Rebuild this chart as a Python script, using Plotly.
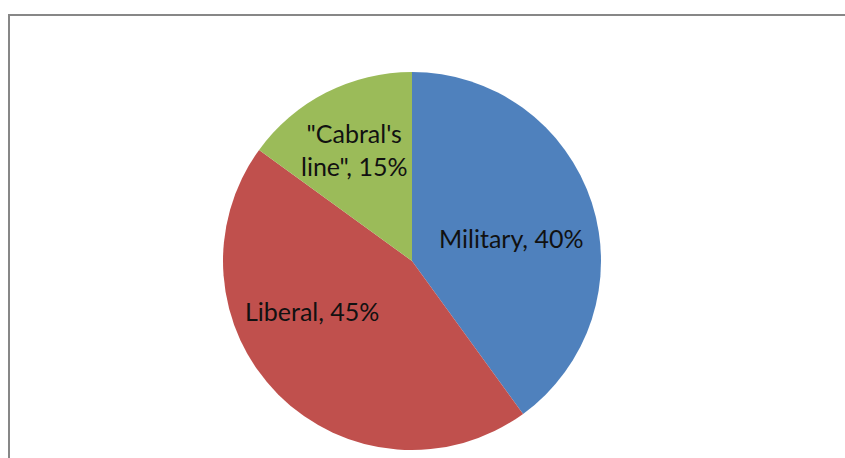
import math
import plotly.graph_objects as go

# Share of each faction
labels = ["Military", "Liberal", '"Cabral\'s<br>line"']
values = [40, 45, 15]
colors = ["#4F81BD", "#C0504D", "#9BBB59"]

W, H = 845, 458
cx, cy, r = 412, 261, 189  # pie centre and radius in pixels

# label placement: fraction of radius and angular nudge (deg) from the slice bisector
label_radius = [0.54, 0.59, 0.665]
label_nudge = [5.0, 18.4, -0.4]

fig = go.Figure(
    go.Pie(
        labels=labels,
        values=values,
        sort=False,
        direction="clockwise",
        rotation=0,
        marker=dict(colors=colors, line=dict(width=0)),
        textinfo="none",
        hoverinfo="skip",
        showlegend=False,
        domain=dict(
            x=[(cx - r) / W, (cx + r) / W],
            y=[1 - (cy + r) / H, 1 - (cy - r) / H],
        ),
    )
)

# data labels "<label>, <percent>" placed along each slice's bisector
total = sum(values)
cum = 0.0
for lab, v, fr, nudge in zip(labels, values, label_radius, label_nudge):
    mid = (cum + v / 2) / total * 360.0 + nudge  # clockwise from 12 o'clock
    cum += v
    px = cx + fr * r * math.sin(math.radians(mid))
    py = cy - fr * r * math.cos(math.radians(mid))
    fig.add_annotation(
        x=px / W, y=1 - py / H, xref="paper", yref="paper",
        text=f"{lab}, {round(v / total * 100)}%",
        showarrow=False, xanchor="center", yanchor="middle", align="center",
        font=dict(family="Lato, Carlito, sans-serif", size=25, color="#111111"),
    )

# chart-area frame (runs off the right and bottom edges)
fig.add_shape(
    type="rect",
    xref="paper", yref="paper",
    x0=9 / W, x1=1.02, y0=-0.02, y1=1 - 15 / H,
    line=dict(color="#878787", width=2),
    fillcolor="rgba(0,0,0,0)",
)

fig.update_layout(
    width=W,
    height=H,
    margin=dict(l=0, r=0, t=0, b=0),
    paper_bgcolor="white",
    plot_bgcolor="white",
)

fig.write_html("out.html")
